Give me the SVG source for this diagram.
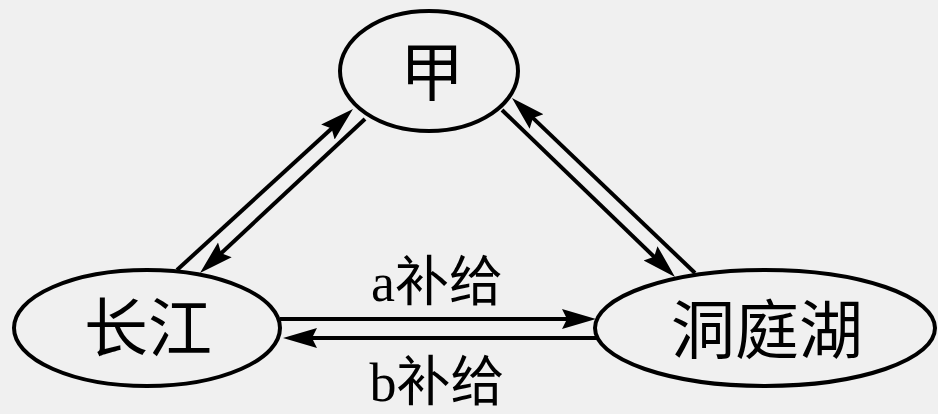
<svg xmlns="http://www.w3.org/2000/svg" width="938" height="414" viewBox="0 0 938 414">
  <style>
    .node { fill: none; stroke: #000; stroke-width: 4; }
    .label { font-family: "Liberation Serif", "Noto Sans CJK SC", serif; fill: #000; text-anchor: middle; }
    .big { font-size: 64px; }
    .edge-label { font-size: 54px; }
    .link { fill: none; stroke: #000; stroke-width: 4; marker-end: url(#arrow); }
  </style>
  <defs>
    <marker id="arrow" markerUnits="userSpaceOnUse" viewBox="0 0 34 22" markerWidth="34" markerHeight="22" refX="24" refY="11" orient="auto">
      <path d="M0,1 L34,11 L0,21 L5,11 Z" fill="#000"/>
    </marker>
  </defs>

  <rect x="0" y="0" width="938" height="414" fill="#f0f0f0"/>

  <g id="node-jia">
    <ellipse class="node" cx="429" cy="71" rx="89" ry="60"/>
    <text class="label big" x="432" y="95" font-size="62">甲</text>
  </g>

  <g id="node-changjiang">
    <ellipse class="node" cx="147" cy="328" rx="133" ry="58"/>
    <text class="label big" x="148" y="351">长江</text>
  </g>

  <g id="node-dongtinghu">
    <ellipse class="node" cx="765" cy="328" rx="170" ry="58"/>
    <text class="label big" x="767" y="353">洞庭湖</text>
  </g>

  <g id="connectors">
    <!-- 长江 <-> 甲 -->
    <path class="link" d="M177,270 L345.6,115.8"/>
    <path class="link" d="M365,119 L207.3,266.2"/>
    <!-- 甲 <-> 洞庭湖 -->
    <path class="link" d="M502,110 L667.8,270"/>
    <path class="link" d="M695,273 L519.2,104.9"/>
    <!-- 长江 <-> 洞庭湖 -->
    <path class="link" d="M280,319 L586,319"/>
    <path class="link" d="M598,338 L293,338"/>
  </g>

  <g id="edge-labels">
    <text class="label edge-label" x="437" y="301">a补给</text>
    <text class="label edge-label" x="437" y="401">b补给</text>
  </g>
</svg>
